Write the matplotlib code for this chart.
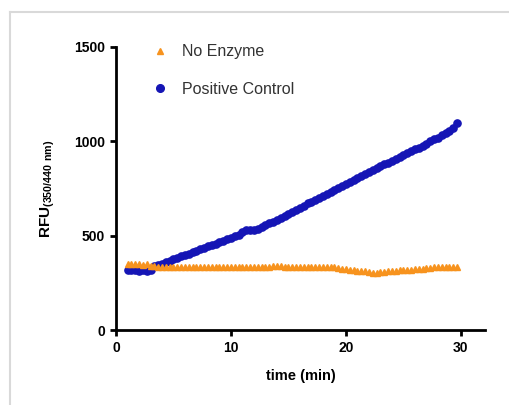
import numpy as np
import matplotlib.pyplot as plt
from matplotlib.lines import Line2D

plt.rcParams['font.family'] = ['Liberation Sans', 'DejaVu Sans']
plt.rcParams['mathtext.fontset'] = 'custom'
plt.rcParams['mathtext.rm'] = 'Liberation Sans:bold'
plt.rcParams['mathtext.bf'] = 'Liberation Sans:bold'

# time points, one reading every 20 s
time_min = np.arange(87) / 3 + 1

positive_control = [318, 316, 318, 315, 317, 314, 316,
                    340, 345,
                    352, 360, 368, 376, 384, 390, 398, 405, 412,
                    420, 428, 436, 443, 450, 458, 465, 473, 482,
                    490, 497, 506, 518, 528, 530, 532, 535, 545,
                    555, 565, 575, 585, 596, 607, 617, 628, 638,
                    648, 660, 672, 680, 688, 698, 708, 720, 730,
                    741, 752, 762, 773, 784, 795, 806, 817, 828,
                    838, 849, 860, 870, 878, 886, 895, 905, 915,
                    926, 938, 950, 958, 966, 976, 988, 1000, 1010,
                    1020, 1032, 1044, 1056, 1070, 1095]

no_enzyme = [352, 350, 348, 350, 345, 348, 342,
             338, 336,
             335, 334, 336, 335, 334, 335, 336, 335, 334,
             333, 334, 335, 334, 333, 334, 335, 334, 333,
             334, 335, 334, 333, 334, 335, 334, 335, 336,
             335, 336, 338, 342, 338, 336, 335, 334, 335,
             334, 335, 334, 333, 334, 335, 334, 333, 332,
             333, 330, 325, 322, 318, 316, 315, 315, 312,
             310, 305, 302, 306, 310, 312, 314, 315, 316,
             318, 317, 318, 322, 322, 322, 328, 330, 332,
             333, 334, 335, 334, 335, 334]

blue = '#1515b5'
orange = '#f7931e'

fig = plt.figure(figsize=(5.1, 4.05), dpi=100)
ax = fig.add_axes([0.2275, 0.185, 0.7235, 0.699])

ax.plot(time_min, positive_control, 'o', color=blue, markersize=5.2, zorder=3)
ax.plot(time_min, no_enzyme, '^', color=orange, markersize=5, zorder=4)

ax.set_xlim(0, 32.1)
ax.set_ylim(0, 1500)
ax.set_xticks([0, 10, 20, 30])
ax.set_yticks([0, 500, 1000, 1500])

for side in ['top', 'right']:
    ax.spines[side].set_visible(False)
for side in ['left', 'bottom']:
    ax.spines[side].set_linewidth(2)
ax.tick_params(direction='out', length=4, width=2, labelsize=10, pad=4)
for lbl in ax.get_xticklabels() + ax.get_yticklabels():
    lbl.set_fontweight('bold')

ax.set_xlabel('time (min)', fontsize=10.5, fontweight='bold', labelpad=10)
ax.set_ylabel(r'RFU$_{\mathrm{(350/440\ nm)}}$', fontsize=11,
              fontweight='bold', labelpad=12)

handles = [Line2D([], [], marker='^', color=orange, ls='none', markersize=5),
           Line2D([], [], marker='o', color=blue, ls='none', markersize=5.5)]
leg = ax.legend(handles, ['No Enzyme', 'Positive Control'], loc='upper left',
                bbox_to_anchor=(0.054, 1.06), frameon=False, fontsize=11.5,
                labelspacing=1.4, handletextpad=0.8, handlelength=1.2)
for t in leg.get_texts():
    t.set_color('#333333')

# light frame around the figure (top and left edges)
fig.add_artist(Line2D([10 / 510, 1], [1 - 12 / 405, 1 - 12 / 405],
                      color='#d9d9d9', lw=1.5, transform=fig.transFigure))
fig.add_artist(Line2D([10 / 510, 10 / 510], [0, 1 - 12 / 405],
                      color='#d9d9d9', lw=1.5, transform=fig.transFigure))

fig.savefig('out.png', dpi=100)
